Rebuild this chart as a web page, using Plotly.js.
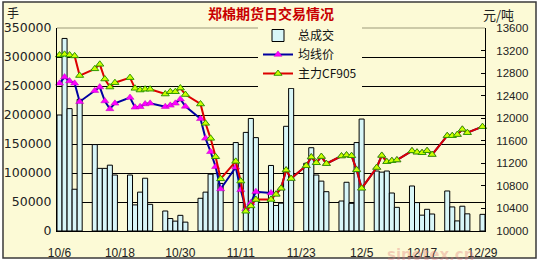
<!DOCTYPE html>
<html>
<head>
<meta charset="utf-8">
<script src="https://cdn.plot.ly/plotly-3.0.1.min.js"></script>
<style>
  html, body { margin: 0; padding: 0; background: #ffffff; }
  #chart { width: 542px; height: 264px; }
</style>
</head>
<body>
<div id="chart"></div>
<script>
// ---- data ----
const dates = [
  "2008-10-06","2008-10-07","2008-10-08","2008-10-09","2008-10-10",
  "2008-10-13","2008-10-14","2008-10-15","2008-10-16","2008-10-17",
  "2008-10-20","2008-10-21","2008-10-22","2008-10-23","2008-10-24",
  "2008-10-27","2008-10-28","2008-10-29","2008-10-30","2008-10-31",
  "2008-11-03","2008-11-04","2008-11-05","2008-11-06","2008-11-07",
  "2008-11-10","2008-11-11","2008-11-12","2008-11-13","2008-11-14",
  "2008-11-17","2008-11-18","2008-11-19","2008-11-20","2008-11-21",
  "2008-11-24","2008-11-25","2008-11-26","2008-11-27","2008-11-28",
  "2008-12-01","2008-12-02","2008-12-03","2008-12-04","2008-12-05",
  "2008-12-08","2008-12-09","2008-12-10","2008-12-11","2008-12-12",
  "2008-12-15","2008-12-16","2008-12-17","2008-12-18","2008-12-19",
  "2008-12-22","2008-12-23","2008-12-24","2008-12-25","2008-12-26",
  "2008-12-29"
];

// 总成交 (手)
const volume = [
  200000, 332000, 211000, 72000, 227000,
  149000, 108000, 108000, 113500, 96500,
  96500, 45000, 67000, 91000, 46000,
  34500, 21500, 17000, 27000, 15300,
  56400, 67000, 98000, 99000, 82000,
  152500, null, 170000, 194000, 161000,
  113000, 44000, 48000, 180500, 246000,
  116700, 143600, 96500, 86000, 67800,
  51700, 84000, 47700, 152500, 193000,
  103400, 101500, 103400, 65500, 40800,
  77600, 49000, 27300, 37400, 29300,
  69000, 41500, 17400, 42700, 29600,
  28700
];

// 均线价 (元/吨)
const avgPrice = [
  12619, 12730, 12660, 12619, 12293,
  12488, 12553, 12305, 12165, 12264,
  12367, 12193, 12204, 12252, 12264,
  12205, 12228, 12264, 12338, 12210,
  11990, 11643, 11406, 11140, 10745,
  11130, 10730, 10390, 10500, 10697,
  10675, 10655, 10757, 11080, 10930,
  11158, 11312, 11210, 11320, 11194,
  11330, 11347, 11335, 11090, 10757,
  11126, 11340, 11229, 11247, 11259,
  11421, 11397, 11388, 11424, 11356,
  11690, 11690, 11710, 11803, 11743,
  11850
];

// 主力CF905 (元/吨)
const mainPrice = [
  13121, 13133, 13121, 13105, 12757,
  12876, 12956, 12695, 12553, 12630,
  12720, 12530, 12500, 12515, 12515,
  12429, 12470, 12470, 12535, 12420,
  12252, 11909, 11643, 11317, 10925,
  11235, 10885, 10350, 10445, 10558,
  10560, 10650, 10757, 11080, 10930,
  11158, 11312, 11210, 11320, 11194,
  11330, 11347, 11335, 11085, 10757,
  11126, 11340, 11229, 11247, 11259,
  11421, 11397, 11388, 11424, 11356,
  11690, 11690, 11710, 11803, 11743,
  11850
];

const xTickVals = ["2008-10-06","2008-10-18","2008-10-30","2008-11-11","2008-11-23","2008-12-05","2008-12-17","2008-12-29"];
const xTickText = ["10/6","10/18","10/30","11/11","11/23","12/5","12/17","12/29"];
const leftTickVals = [0, 50000, 100000, 150000, 200000, 250000, 300000, 350000];
const leftTickText = ["0","50000","100000","150000","200000","250000","300000","350000"];
const rightTickVals = [10000, 10400, 10800, 11200, 11600, 12000, 12400, 12800, 13200, 13600];
const rightTickText = ["10000","10400","10800","11200","11600","12000","12400","12800","13200","13600"];

const seriesNames = ["总成交", "均线价", "主力CF905"];

// ---- styling ----
const BG = "#FCFAD6";
const CJK = "Noto Sans CJK SC, sans-serif";

const traces = [
  {
    type: "bar", name: seriesNames[0], x: dates, y: volume, yaxis: "y",
    marker: { color: "#D8F6F8", line: { color: "#000000", width: 1 } },
    hoverinfo: "skip"
  },
  {
    type: "scatter", mode: "lines+markers", name: seriesNames[1], x: dates, y: avgPrice, yaxis: "y2",
    line: { color: "#0000A0", width: 2 },
    marker: { symbol: "triangle-up", size: 7, color: "#FF00FF", line: { color: "#C000C0", width: 0.5 } },
    cliponaxis: false
  },
  {
    type: "scatter", mode: "lines+markers", name: seriesNames[2], x: dates, y: mainPrice, yaxis: "y2",
    line: { color: "#DD0000", width: 2 },
    marker: { symbol: "triangle-up", size: 7, color: "#CCFF00", line: { color: "#2E9A00", width: 1 } },
    cliponaxis: false
  }
];

const PL = 57, PR = 485, PT = 28, PB = 231;
const px = v => (v - PL) / (PR - PL);
const py = v => (PB - v) / (PB - PT);

const layout = {
  width: 542, height: 264,
  margin: { l: PL, r: 542 - PR, t: PT, b: 264 - PB, pad: 0 },
  paper_bgcolor: "#ffffff",
  plot_bgcolor: BG,
  bargap: 0,
  showlegend: true,
  title: {
    text: "郑棉期货日交易情况",
    font: { family: CJK, size: 14, color: "#C80000", weight: "bold" },
    x: 0.5, xanchor: "center", xref: "paper",
    y: 1 - 14 / 264, yref: "container", yanchor: "middle"
  },
  xaxis: {
    type: "date",
    range: ["2008-10-05 12:00", "2008-12-29 12:00"],
    tickmode: "array", tickvals: xTickVals, ticktext: xTickText,
    showgrid: false, zeroline: false,
    showline: true, linecolor: "#000000", linewidth: 1,
    ticks: "", ticklabelstandoff: 11,
    tickfont: { family: "Liberation Sans, Arial, sans-serif", size: 12, color: "#222222" },
    fixedrange: true
  },
  yaxis: {
    range: [0, 350000],
    tickmode: "array", tickvals: leftTickVals, ticktext: leftTickText,
    showgrid: true, gridcolor: "#000000", gridwidth: 1,
    zeroline: false,
    showline: true, linecolor: "#000000", linewidth: 1,
    ticks: "", ticklabelstandoff: 2,
    tickfont: { family: "DejaVu Sans, sans-serif", size: 12.5, color: "#222222" },
    fixedrange: true
  },
  yaxis2: {
    overlaying: "y", side: "right",
    range: [10000, 13600],
    tickmode: "array", tickvals: rightTickVals, ticktext: rightTickText,
    showgrid: false, zeroline: false,
    showline: true, linecolor: "#000000", linewidth: 1,
    ticks: "inside", ticklen: 4, tickcolor: "#000000", tickwidth: 1,
    ticklabelstandoff: 8,
    tickfont: { family: "Liberation Sans, Arial, sans-serif", size: 11.5, color: "#222222" },
    fixedrange: true
  },
  legend: {
    x: px(258), y: py(21), xanchor: "left", yanchor: "top",
    bgcolor: BG, borderwidth: 0,
    font: { family: CJK, size: 12, color: "#111111" },
    itemwidth: 30, traceorder: "normal"
  },
  shapes: [
    { type: "rect", xref: "paper", yref: "paper", layer: "below",
      x0: px(3), x1: px(536), y0: py(258), y1: py(2),
      fillcolor: BG, line: { color: "#3a3a3a", width: 1.5 } },
    { type: "line", xref: "paper", yref: "paper", layer: "above",
      x0: 0, x1: 1, y0: 1, y1: 1, line: { color: "#9c9a7a", width: 1 } }
  ],
  annotations: [
    { text: "手", xref: "paper", yref: "paper", x: px(6), y: py(12),
      xanchor: "left", yanchor: "middle", showarrow: false, borderpad: 0,
      font: { family: CJK, size: 12, color: "#222222" } },
    { text: "元/吨", xref: "paper", yref: "paper", x: px(481), y: py(14),
      xanchor: "left", yanchor: "middle", showarrow: false,
      font: { family: CJK, size: 13, color: "#222222" } },
    { text: "sinotex.cn", xref: "paper", yref: "paper", x: px(430), y: py(255),
      xanchor: "center", yanchor: "middle", showarrow: false,
      font: { family: "DejaVu Sans, sans-serif", size: 15, color: "rgba(225,120,120,0.35)", weight: "bold" } }
  ]
};

Plotly.newPlot("chart", traces, layout, { displayModeBar: false, staticPlot: true });
</script>
</body>
</html>
